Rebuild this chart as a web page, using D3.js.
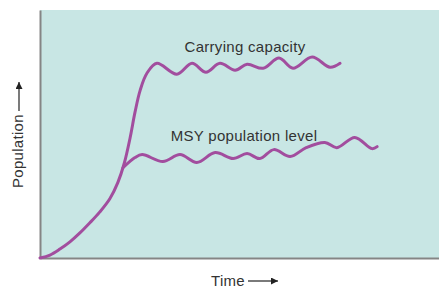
<!DOCTYPE html>
<html>
<head>
<meta charset="utf-8">
<script src="https://cdn.jsdelivr.net/npm/d3@7"></script>
<style>
  body { margin: 0; background: #fff; }
  text { font-family: "Liberation Sans", Arial, sans-serif; fill: #333; }
</style>
</head>
<body>
<div id="fig"></div>
<script>
const fig_width = 439
const fig_height = 289

// growth curve that levels off at carrying capacity (time, population)
const growthTime = [0, 2.5, 5, 7.5, 10, 12.5, 15, 17.5, 19.5, 21.1, 22.6, 23.8, 25.1, 26.8, 29.3, 34.3, 38.1, 41.6, 45.1, 48.9, 51.9, 55.9, 59.9, 63.4, 68.2, 72.7, 75.2]
const growthPop  = [0, 1.2, 3.6, 6.5, 10.1, 14.2, 18.6, 23.9, 30.4, 38.1, 48.6, 58.7, 67.6, 74.5, 78.5, 74.1, 78.5, 74.9, 78.5, 75.7, 78.1, 76.5, 80.6, 76.5, 81.0, 76.9, 78.5]

// branch held at the MSY level
const msyTime = [20.8, 23.8, 25.6, 30.8, 35.1, 39.3, 43.9, 48.4, 51.9, 55.1, 58.6, 62.7, 66.7, 71.4, 74.4, 78.9, 83.2, 84.5]
const msyPop  = [36.4, 40.5, 41.7, 38.9, 41.7, 38.5, 42.5, 40.1, 42.1, 40.1, 43.7, 40.9, 44.5, 46.6, 44.5, 48.6, 44.1, 44.9]

const labels = ["Carrying capacity", "MSY population level"]

const margin = {left: 40, top: 10, right: 0, bottom: 31}
const panel_bg = '#c8e6e4'
const line_colour = '#a24d9e'

let svg = d3.select('#fig')
    .append('svg')
    .attr('width', fig_width)
    .attr('height', fig_height)

let x = d3.scaleLinear()
    .domain([0, 100])
    .range([margin.left, fig_width - margin.right])
let y = d3.scaleLinear()
    .domain([0, 100])
    .range([fig_height - margin.bottom, margin.top])

svg.append('rect')
    .attr('x', x(0))
    .attr('y', y(100))
    .attr('width', x(100) - x(0))
    .attr('height', y(0) - y(100))
    .attr('fill', panel_bg)

// plain axes, no ticks
let xAxis = svg.append('g')
    .attr('transform', `translate(0,${y(0)})`)
    .call(d3.axisBottom(x).tickValues([]).tickSizeOuter(0))
let yAxis = svg.append('g')
    .attr('transform', `translate(${x(0)},0)`)
    .call(d3.axisLeft(y).tickValues([]).tickSizeOuter(0))
svg.selectAll('.domain').attr('stroke', '#858585').attr('stroke-width', 2)

let line = d3.line()
    .x(d => x(d[0]))
    .y(d => y(d[1]))
    .curve(d3.curveCatmullRom.alpha(0.5))

let series = [d3.zip(growthTime, growthPop), d3.zip(msyTime, msyPop)]

svg.selectAll('path.curve')
    .data(series)
    .join('path')
    .attr('class', 'curve')
    .attr('d', line)
    .attr('fill', 'none')
    .attr('stroke', line_colour)
    .attr('stroke-width', 3)
    .attr('stroke-linecap', 'round')

svg.selectAll('text.lbl')
    .data(labels)
    .join('text')
    .attr('class', 'lbl')
    .attr('x', (d, i) => i == 0 ? 245 : 244)
    .attr('y', (d, i) => i == 0 ? 52 : 141)
    .attr('text-anchor', 'middle')
    .style('font-size', '15px')
    .style('letter-spacing', '0.3px')
    .text(d => d)

// axis titles with arrows
svg.append('defs').append('marker')
    .attr('id', 'head')
    .attr('viewBox', '0 0 10 10')
    .attr('refX', 10).attr('refY', 5)
    .attr('markerWidth', 9).attr('markerHeight', 7)
    .attr('markerUnits', 'userSpaceOnUse')
    .attr('orient', 'auto')
    .append('path')
    .attr('d', 'M0,0L10,5L0,10z')
    .attr('fill', '#222')

svg.append('text')
    .attr('x', 211)
    .attr('y', 286)
    .style('font-size', '15px')
    .style('letter-spacing', '0.3px')
    .text('Time')
svg.append('line')
    .attr('x1', 248).attr('x2', 278)
    .attr('y1', 281).attr('y2', 281)
    .attr('stroke', '#222')
    .attr('stroke-width', 1.2)
    .attr('marker-end', 'url(#head)')

svg.append('text')
    .attr('transform', 'translate(23,188) rotate(-90)')
    .style('font-size', '15px')
    .style('letter-spacing', '0.3px')
    .text('Population')
svg.append('line')
    .attr('x1', 19).attr('x2', 19)
    .attr('y1', 111).attr('y2', 82)
    .attr('stroke', '#222')
    .attr('stroke-width', 1.2)
    .attr('marker-end', 'url(#head)')
</script>
</body>
</html>
